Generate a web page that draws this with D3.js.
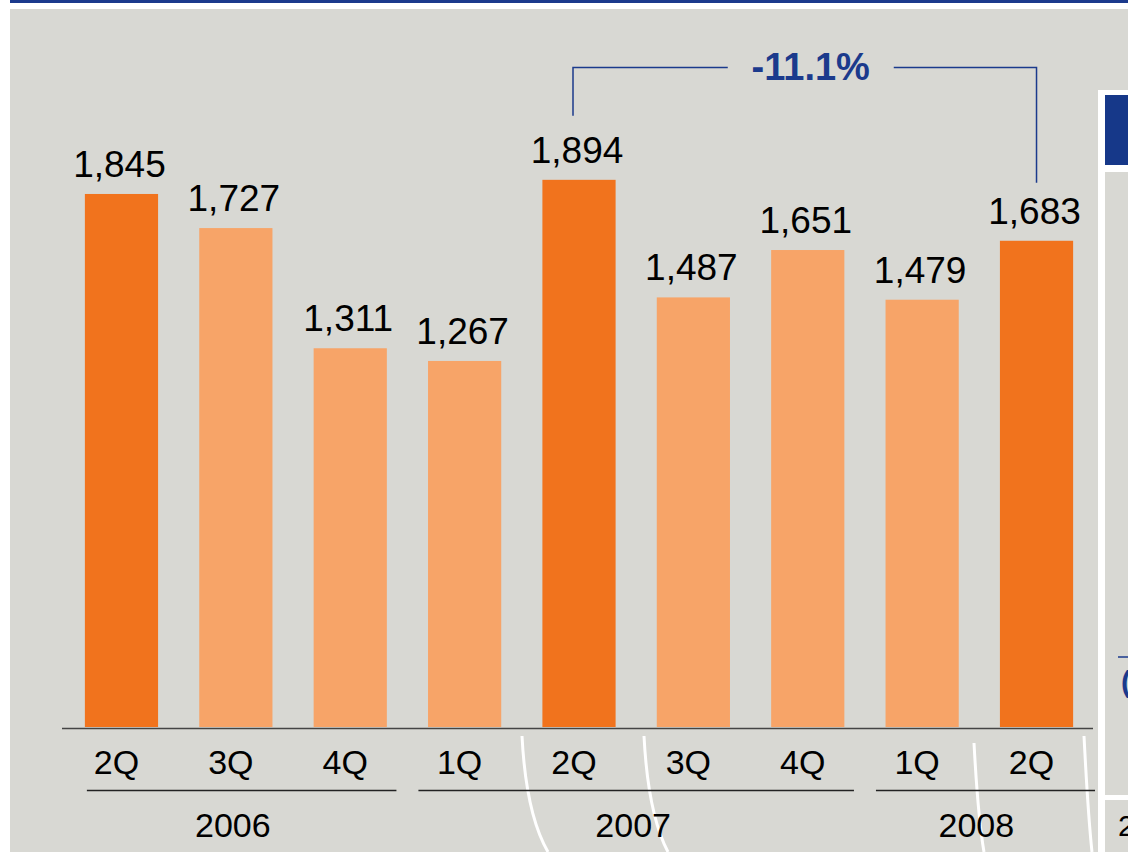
<!DOCTYPE html>
<html>
<head>
<meta charset="utf-8">
<script src="https://cdn.jsdelivr.net/npm/d3@7"></script>
<style>
  html, body { margin: 0; padding: 0; background: #fff; }
  svg { display: block; }
  text { font-family: Arial, "Liberation Sans", sans-serif; }
</style>
</head>
<body>
<div id="chart"></div>
<script>
// data
const quarters = ["2Q", "3Q", "4Q", "1Q", "2Q", "3Q", "4Q", "1Q", "2Q"];
const years = ["2006", "2006", "2006", "2007", "2007", "2007", "2007", "2008", "2008"];
const values = [1845, 1727, 1311, 1267, 1894, 1487, 1651, 1479, 1683];
const yearLabels = ["2006", "2007", "2008"];
const changeLabel = "-11.1%";
const changeFrom = 4, changeTo = 8;

const width = 1128, height = 852;
const darkOrange = "#f1731d", lightOrange = "#f7a468";
const navy = "#1b3a8c";

const svg = d3.select("#chart").append("svg")
  .attr("width", width)
  .attr("height", height);

// background pieces
svg.append("rect").attr("x", 10).attr("y", 0).attr("width", width - 10).attr("height", 3).attr("fill", navy);
svg.append("rect").attr("x", 10).attr("y", 9).attr("width", width - 10).attr("height", height - 9).attr("fill", "#d8d8d3");

// side panel on the right (cut off by the frame, as in the original)
svg.append("rect").attr("x", 1098).attr("y", 90).attr("width", 30).attr("height", height - 90).attr("fill", "#fff");
svg.append("rect").attr("x", 1105).attr("y", 95).attr("width", 23).attr("height", 70).attr("fill", "#163889");
svg.append("rect").attr("x", 1105).attr("y", 172).attr("width", 23).attr("height", 623).attr("fill", "#d8d8d3");
svg.append("rect").attr("x", 1105).attr("y", 800).attr("width", 23).attr("height", 52).attr("fill", "#d8d8d3");
svg.append("line").attr("x1", 1118).attr("x2", 1128).attr("y1", 657).attr("y2", 657)
  .attr("stroke", navy).attr("stroke-width", 1.5);
svg.append("text").attr("x", 1121).attr("y", 692).attr("font-size", 30).attr("font-weight", "bold")
  .attr("fill", navy).text("(");
svg.append("text").attr("x", 1118).attr("y", 836).attr("font-size", 30).attr("fill", "#000").text("2");

// scales
const x = d3.scaleBand()
  .domain(d3.range(values.length))
  .range([62, 1096])
  .paddingInner(0.36)
  .paddingOuter(0.2);

const y = d3.scaleLinear()
  .domain([0, 2000])
  .range([727, 727 - 2000 * 0.2889]);

// decorative white arcs behind the axis labels
const arcs = [[522, 736, 548, 852], [644, 736, 668, 852], [974, 743, 984, 852], [1084, 736, 1092, 852]];
svg.append("g").selectAll("path")
  .data(arcs)
  .enter().append("path")
  .attr("d", d => `M${d[0]},${d[1]} Q${d[0] + 4},${(d[1] + d[3]) / 2 + 20} ${d[2]},${d[3]}`)
  .attr("fill", "none")
  .attr("stroke", "#fff")
  .attr("stroke-width", 3);

// bars
svg.append("g").selectAll("rect")
  .data(values)
  .enter().append("rect")
  .attr("x", (d, i) => x(i))
  .attr("y", d => y(d))
  .attr("width", x.bandwidth())
  .attr("height", d => y(0) - y(d))
  .attr("fill", (d, i) => quarters[i] === "2Q" ? darkOrange : lightOrange);

// value labels
svg.append("g").selectAll("text")
  .data(values)
  .enter().append("text")
  .attr("x", (d, i) => x(i) + x.bandwidth() / 2 - 2)
  .attr("y", d => y(d) - 17)
  .attr("text-anchor", "middle")
  .attr("font-size", 37)
  .attr("fill", "#000")
  .text(d => d3.format(",")(d));

// baseline
svg.append("line")
  .attr("x1", 62).attr("x2", 1093)
  .attr("y1", 728.5).attr("y2", 728.5)
  .attr("stroke", "#444").attr("stroke-width", 1.3);

// quarter labels
svg.append("g").selectAll("text")
  .data(quarters)
  .enter().append("text")
  .attr("x", (d, i) => x(i) + x.bandwidth() / 2 - 5)
  .attr("y", 774)
  .attr("text-anchor", "middle")
  .attr("font-size", 34)
  .attr("fill", "#000")
  .text(d => d);

// year groups
const groups = yearLabels.map(yr => {
  const idx = d3.range(years.length).filter(i => years[i] === yr);
  return { year: yr, first: idx[0], last: idx[idx.length - 1] };
});
const gap = x.step() - x.bandwidth();
groups.forEach((g, k) => {
  const left = k === 0 ? x(g.first) + 2 : x(g.first) - gap / 2 + 11;
  const right = k === groups.length - 1 ? 1095 : x(g.last) + x.bandwidth() + gap / 2 - 11;
  svg.append("line")
    .attr("x1", left).attr("x2", right)
    .attr("y1", 790.5).attr("y2", 790.5)
    .attr("stroke", "#222").attr("stroke-width", 1.3);
  const cx = (x(g.first) + x(g.last) + x.bandwidth()) / 2;
  svg.append("text")
    .attr("x", cx - 3)
    .attr("y", 837)
    .attr("text-anchor", "middle")
    .attr("font-size", 34)
    .attr("fill", "#000")
    .text(g.year);
});

// change bracket
const bx1 = x(changeFrom) + x.bandwidth() / 2 - 6;
const bx2 = x(changeTo) + x.bandwidth() / 2;
const by = 67.5;
const labelX = (bx1 + bx2) / 2 + 6;
svg.append("path")
  .attr("d", `M${bx1},${y(values[changeFrom]) - 64} V${by} H${labelX - 83}`)
  .attr("fill", "none").attr("stroke", navy).attr("stroke-width", 1.5);
svg.append("path")
  .attr("d", `M${labelX + 83},${by} H${bx2} V${y(values[changeTo]) - 58}`)
  .attr("fill", "none").attr("stroke", navy).attr("stroke-width", 1.5);
svg.append("text")
  .attr("x", labelX)
  .attr("y", 80)
  .attr("text-anchor", "middle")
  .attr("font-size", 38)
  .attr("font-weight", "bold")
  .attr("fill", navy)
  .text(changeLabel);
</script>
</body>
</html>
